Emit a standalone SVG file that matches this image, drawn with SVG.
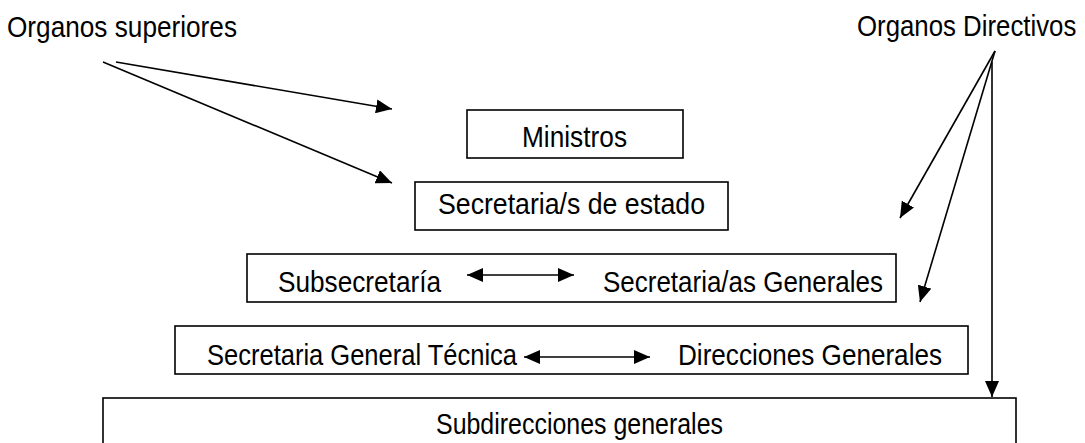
<svg xmlns="http://www.w3.org/2000/svg" width="1085" height="443" viewBox="0 0 1085 443">
<style>
text{font-family:"Liberation Sans",Arial,sans-serif;font-size:30px;fill:#000}
.box{fill:#fff;stroke:#000;stroke-width:1.6}
.ln{stroke:#000;stroke-width:1.6;fill:none}
</style>
<defs>
<marker id="ah" markerUnits="userSpaceOnUse" markerWidth="18" markerHeight="14" refX="16" refY="7" orient="auto-start-reverse">
<path d="M0,0 L16,7 L0,14 Z" fill="#000"/>
</marker>
</defs>
<rect width="1085" height="443" fill="#fff"/>
<g id="label-superiores"><text x="7" y="37" textLength="230" lengthAdjust="spacingAndGlyphs">Organos superiores</text></g>
<g id="label-directivos"><text transform="translate(857,36) scale(1,1.15)" x="0" y="0" style="font-size:25.8px">Organos Directivos</text></g>
<g id="ministros"><rect class="box" x="467" y="110" width="216" height="48"/><text x="522" y="147" textLength="105" lengthAdjust="spacingAndGlyphs">Ministros</text></g>
<g id="secretarias-estado"><rect class="box" x="415" y="182" width="313" height="48"/><text x="438" y="214" textLength="267" lengthAdjust="spacingAndGlyphs">Secretaria/s de estado</text></g>
<g id="subsecretaria-row"><rect class="box" x="247" y="254" width="649" height="48"/><text x="278" y="292" textLength="163" lengthAdjust="spacingAndGlyphs">Subsecretaría</text><text x="603" y="292" textLength="280" lengthAdjust="spacingAndGlyphs">Secretaria/as Generales</text></g>
<g id="sgt-row"><rect class="box" x="175" y="326" width="793" height="48"/><text x="207" y="365" textLength="310" lengthAdjust="spacingAndGlyphs">Secretaria General Técnica</text><text x="678" y="365" textLength="264" lengthAdjust="spacingAndGlyphs">Direcciones Generales</text></g>
<g id="subdirecciones"><rect class="box" x="103" y="398" width="913" height="70"/><text x="436" y="434" textLength="287" lengthAdjust="spacingAndGlyphs">Subdirecciones generales</text></g>
<g id="connectors">
<line class="ln" x1="116" y1="62" x2="392" y2="109" marker-end="url(#ah)"/>
<line class="ln" x1="103" y1="62" x2="392" y2="183" marker-end="url(#ah)"/>
<line class="ln" x1="995" y1="51" x2="900" y2="218" marker-end="url(#ah)"/>
<line class="ln" x1="995" y1="51" x2="920" y2="302" marker-end="url(#ah)"/>
<line class="ln" x1="992" y1="62" x2="992" y2="397" marker-end="url(#ah)"/>
<line class="ln" x1="467" y1="275" x2="574" y2="275" marker-start="url(#ah)" marker-end="url(#ah)"/>
<line class="ln" x1="524" y1="357" x2="650" y2="357" marker-start="url(#ah)" marker-end="url(#ah)"/>
</g>
</svg>
